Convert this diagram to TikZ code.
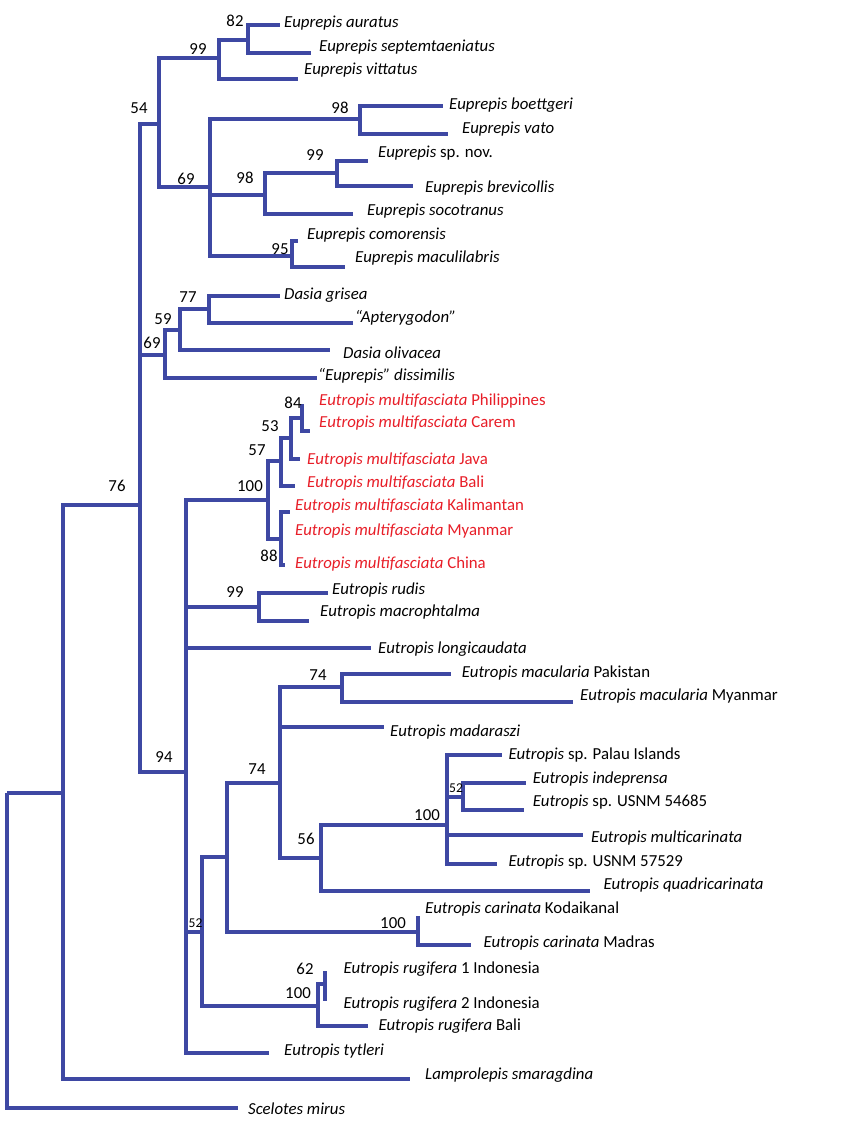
\documentclass[tikz,border=0pt]{standalone}
\usepackage{fontspec}
\setmainfont{Carlito}
\definecolor{treeblue}{RGB}{62,72,163}
\definecolor{tred}{RGB}{232,30,40}
\begin{document}
\begin{tikzpicture}[x=1pt,y=-1pt,
  br/.style={draw=treeblue,line width=3.8pt},
  lab/.style={anchor=mid west,inner sep=0pt,yshift=-1.5pt,font=\fontsize{16.8}{19}\selectfont},
  rlab/.style={lab,text=tred},
  bs/.style={inner sep=0pt,yshift=-1pt,font=\fontsize{16.8}{19}\selectfont},
  bss/.style={inner sep=0pt,font=\fontsize{13.5}{15}\selectfont}]
\useasboundingbox[fill=white] (0,0) rectangle (847,1131);
% internal nodes
\coordinate (R) at (7,793);
\coordinate (A) at (63,793);
\coordinate (n76) at (140,504.7);
\coordinate (n54) at (159,124);
\coordinate (n99a) at (219,58);
\coordinate (n82) at (247.7,40);
\coordinate (n69e) at (210,186.7);
\coordinate (n98a) at (360,119);
\coordinate (n98b) at (265,195);
\coordinate (n99b) at (337,173);
\coordinate (n95) at (292,256);
\coordinate (n69d) at (165,355);
\coordinate (n59) at (180,330);
\coordinate (n77) at (209,309);
\coordinate (n94) at (186,771.7);
\coordinate (n100mf) at (267.7,500);
\coordinate (n57) at (281,461);
\coordinate (n53) at (290.7,438);
\coordinate (n84) at (302.3,418);
\coordinate (n88) at (280.7,539);
\coordinate (n99c) at (259,606.7);
\coordinate (n52b) at (202.3,931.7);
\coordinate (n74b) at (227.3,856.7);
\coordinate (n74a) at (280,782.7);
\coordinate (n74m) at (341.7,686.7);
\coordinate (n56) at (320.7,858.3);
\coordinate (n100p) at (446.7,825);
\coordinate (n52s) at (463.3,796.7);
\coordinate (n100c) at (417.7,931.7);
\coordinate (n100r) at (318.3,1006);
\coordinate (n62) at (325.3,984.3);
% tips
\coordinate (tauratus) at (280,25);
\coordinate (tseptem) at (310.7,52.7);
\coordinate (tvittatus) at (297.7,79);
\coordinate (tboettgeri) at (442.7,106);
\coordinate (tvato) at (448,134);
\coordinate (tspnov) at (368,160.7);
\coordinate (tbrevicollis) at (413,186);
\coordinate (tsocotranus) at (353,214);
\coordinate (tcomorensis) at (298,240.7);
\coordinate (tmaculilabris) at (345,266.7);
\coordinate (tgrisea) at (280,295.7);
\coordinate (tapter) at (353,322.7);
\coordinate (tolivacea) at (330,350);
\coordinate (tdissimilis) at (317,378);
\coordinate (tphil) at (302.3,404);
\coordinate (tcarem) at (310,430.7);
\coordinate (tjava) at (300,459);
\coordinate (tbali) at (295,485.7);
\coordinate (tkalim) at (290,511.7);
\coordinate (tchina) at (285,565);
\coordinate (trudis) at (327.7,593);
\coordinate (tmacroph) at (309,620.7);
\coordinate (tlongi) at (371,647.7);
\coordinate (tpak) at (451,674.3);
\coordinate (tmyan) at (573.3,701.7);
\coordinate (tmadar) at (384,727.3);
\coordinate (tpalau) at (501.7,755);
\coordinate (tindep) at (526,782.7);
\coordinate (tusnma) at (524,810);
\coordinate (tmulticar) at (583.3,835);
\coordinate (tusnmb) at (496.7,864.3);
\coordinate (tquadri) at (590,890.7);
\coordinate (tkoda) at (417.7,916);
\coordinate (tmadras) at (470.7,945);
\coordinate (trugA) at (325.3,970.7);
\coordinate (trugB) at (325.3,1000.7);
\coordinate (trugbali) at (368.3,1026);
\coordinate (ttytleri) at (269,1052.7);
\coordinate (tlampro) at (410,1079);
\coordinate (tscelotes) at (238,1107.7);
% branches
\draw[br] (R) |- (A);
\draw[br] (R) |- (tscelotes);
\draw[br] (A) |- (n76);
\draw[br] (A) |- (tlampro);
\draw[br] (n76) |- (n54);
\draw[br] (n76) |- (n69d);
\draw[br] (n76) |- (n94);
\draw[br] (n54) |- (n99a);
\draw[br] (n54) |- (n69e);
\draw[br] (n99a) |- (n82);
\draw[br] (n99a) |- (tvittatus);
\draw[br] (n82) |- (tauratus);
\draw[br] (n82) |- (tseptem);
\draw[br] (n69e) |- (n98a);
\draw[br] (n69e) |- (n98b);
\draw[br] (n69e) |- (n95);
\draw[br] (n98a) |- (tboettgeri);
\draw[br] (n98a) |- (tvato);
\draw[br] (n98b) |- (n99b);
\draw[br] (n98b) |- (tsocotranus);
\draw[br] (n99b) |- (tspnov);
\draw[br] (n99b) |- (tbrevicollis);
\draw[br] (n95) |- (tcomorensis);
\draw[br] (n95) |- (tmaculilabris);
\draw[br] (n69d) |- (n59);
\draw[br] (n69d) |- (tdissimilis);
\draw[br] (n59) |- (n77);
\draw[br] (n59) |- (tolivacea);
\draw[br] (n77) |- (tgrisea);
\draw[br] (n77) |- (tapter);
\draw[br] (n94) |- (n100mf);
\draw[br] (n94) |- (n99c);
\draw[br] (n94) |- (tlongi);
\draw[br] (n94) |- (n52b);
\draw[br] (n94) |- (ttytleri);
\draw[br] (n100mf) |- (n57);
\draw[br] (n100mf) |- (n88);
\draw[br] (n57) |- (n53);
\draw[br] (n57) |- (tbali);
\draw[br] (n53) |- (n84);
\draw[br] (n53) |- (tjava);
\draw[br] (n84) |- (tphil);
\draw[br] (n84) |- (tcarem);
\draw[br] (n88) |- (tkalim);
\draw[br] (n88) |- (tchina);
\draw[br] (n99c) |- (trudis);
\draw[br] (n99c) |- (tmacroph);
\draw[br] (n52b) |- (n74b);
\draw[br] (n52b) |- (n100r);
\draw[br] (n74b) |- (n74a);
\draw[br] (n74b) |- (n100c);
\draw[br] (n74a) |- (n74m);
\draw[br] (n74a) |- (tmadar);
\draw[br] (n74a) |- (n56);
\draw[br] (n74m) |- (tpak);
\draw[br] (n74m) |- (tmyan);
\draw[br] (n56) |- (n100p);
\draw[br] (n56) |- (tquadri);
\draw[br] (n100p) |- (tpalau);
\draw[br] (n100p) |- (n52s);
\draw[br] (n100p) |- (tmulticar);
\draw[br] (n100p) |- (tusnmb);
\draw[br] (n52s) |- (tindep);
\draw[br] (n52s) |- (tusnma);
\draw[br] (n100c) |- (tkoda);
\draw[br] (n100c) |- (tmadras);
\draw[br] (n100r) |- (n62);
\draw[br] (n100r) |- (trugbali);
\draw[br] (n62) |- (trugA);
\draw[br] (n62) |- (trugB);
% support values
\node[bs] (b76) at (117,485) {76};
\node[bs] (b54) at (139,107) {54};
\node[bs] (b99a) at (198,47.7) {99};
\node[bs] (b82) at (235,20) {82};
\node[bs] (b69e) at (186,178) {69};
\node[bs] (b98a) at (340,107) {98};
\node[bs] (b98b) at (245,177) {98};
\node[bs] (b99b) at (315,154) {99};
\node[bs] (b95) at (280,248) {95};
\node[bs] (b69d) at (152,342) {69};
\node[bs] (b59) at (163,318) {59};
\node[bs] (b77) at (188,295.7) {77};
\node[bs] (b94) at (164,756) {94};
\node[bs] (b100mf) at (250,485) {100};
\node[bs] (b57) at (257,449) {57};
\node[bs] (b53) at (270,425) {53};
\node[bs] (b84) at (293,401.7) {84};
\node[bs] (b88) at (269,555) {88};
\node[bs] (b99c) at (235,591) {99};
\node[bs] (b74m) at (318,674) {74};
\node[bs] (b74a) at (257,768.3) {74};
\node[bs] (b56) at (306,838.3) {56};
\node[bs] (b100p) at (427,814.3) {100};
\node[bss] (b52s) at (456,788.3) {52};
\node[bss] (b52b) at (195.5,923) {52};
\node[bs] (b100c) at (393,921.7) {100};
\node[bs] (b62) at (305,968.3) {62};
\node[bs] (b100r) at (298,991.7) {100};
% taxon labels
\node[lab] (lauratus) at (284,24) {\textit{Euprepis auratus}};
\node[lab] (lseptem) at (319,47.7) {\textit{Euprepis septemtaeniatus}};
\node[lab] (lvittatus) at (304,70.7) {\textit{Euprepis vittatus}};
\node[lab] (lboettgeri) at (449,106) {\textit{Euprepis boettgeri}};
\node[lab] (lvato) at (462,130) {\textit{Euprepis vato}};
\node[lab] (lspnov) at (378,154) {\textit{Euprepis} sp. nov.};
\node[lab] (lbrevicollis) at (425,189) {\textit{Euprepis brevicollis}};
\node[lab] (lsocotranus) at (367,212) {\textit{Euprepis socotranus}};
\node[lab] (lcomorensis) at (307,236) {\textit{Euprepis comorensis}};
\node[lab] (lmaculilabris) at (355,259) {\textit{Euprepis maculilabris}};
\node[lab] (lgrisea) at (284,295.7) {\textit{Dasia grisea}};
\node[lab] (lapter) at (355,319) {\textit{“Apterygodon”}};
\node[lab] (lolivacea) at (343,355) {\textit{Dasia olivacea}};
\node[lab] (ldissimilis) at (318,377) {\textit{“Euprepis” dissimilis}};
\node[rlab] (lphil) at (319,401.7) {\textit{Eutropis multifasciata} Philippines};
\node[rlab] (lcarem) at (319,424) {\textit{Eutropis multifasciata} Carem};
\node[rlab] (ljava) at (307,460.7) {\textit{Eutropis multifasciata} Java};
\node[rlab] (lbali) at (307,484) {\textit{Eutropis multifasciata} Bali};
\node[rlab] (lkalim) at (295,507) {\textit{Eutropis multifasciata} Kalimantan};
\node[rlab] (lmyanmf) at (295,531.7) {\textit{Eutropis multifasciata} Myanmar};
\node[rlab] (lchina) at (295,565) {\textit{Eutropis multifasciata} China};
\node[lab] (lrudis) at (332,590.7) {\textit{Eutropis rudis}};
\node[lab] (lmacroph) at (320,613) {\textit{Eutropis macrophtalma}};
\node[lab] (llongi) at (378,650) {\textit{Eutropis longicaudata}};
\node[lab] (lpak) at (461.7,674) {\textit{Eutropis macularia} Pakistan};
\node[lab] (lmyan) at (580,696.7) {\textit{Eutropis macularia} Myanmar};
\node[lab] (lmadar) at (390,733) {\textit{Eutropis madaraszi}};
\node[lab] (lpalau) at (508.3,755.7) {\textit{Eutropis} sp. Palau Islands};
\node[lab] (lindep) at (532.7,779.3) {\textit{Eutropis indeprensa}};
\node[lab] (lusnma) at (532.7,802.7) {\textit{Eutropis} sp. USNM 54685};
\node[lab] (lmulticar) at (591,839) {\textit{Eutropis multicarinata}};
\node[lab] (lusnmb) at (508.3,862.3) {\textit{Eutropis} sp. USNM 57529};
\node[lab] (lquadri) at (603.3,885.7) {\textit{Eutropis quadricarinata}};
\node[lab] (lkoda) at (425,910) {\textit{Eutropis carinata} Kodaikanal};
\node[lab] (lmadras) at (483.3,944) {\textit{Eutropis carinata} Madras};
\node[lab] (lrugA) at (343.3,969.3) {\textit{Eutropis rugifera} 1 Indonesia};
\node[lab] (lrugB) at (343.3,1005) {\textit{Eutropis rugifera} 2 Indonesia};
\node[lab] (lrugbali) at (378.3,1027) {\textit{Eutropis rugifera} Bali};
\node[lab] (ltytleri) at (284,1052) {\textit{Eutropis tytleri}};
\node[lab] (llampro) at (425,1076) {\textit{Lamprolepis smaragdina}};
\node[lab] (lscelotes) at (248,1111) {\textit{Scelotes mirus}};
\end{tikzpicture}
\end{document}
